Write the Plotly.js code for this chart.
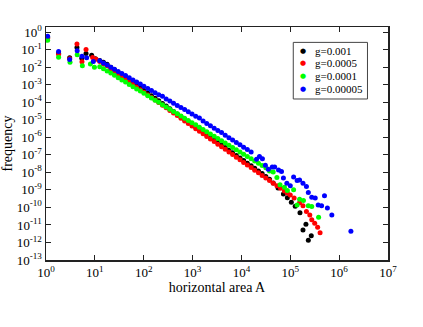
<!DOCTYPE html>
<html>
<head>
<meta charset="utf-8">
<script src="https://cdn.plot.ly/plotly-3.0.1.min.js"></script>
<style>
  html, body { margin: 0; padding: 0; background: #ffffff; }
  #chart { width: 423px; height: 327px; }
</style>
</head>
<body>
<div id="chart"></div>
<script>
// log-binned area values shared by the body of every curve
const areaBins = [12.6, 15.0, 17.8, 21.2, 25.2, 30.0, 35.7, 42.5, 50.6, 60.2, 71.6, 85.2, 101, 121, 144, 171, 203, 242, 288, 343,
  408, 486, 578, 688, 818, 974, 1160, 1380, 1640, 1950, 2320, 2770, 3290, 3920, 4660, 5550, 6600, 7860, 9350, 11100,
  13200, 15800, 18700, 22300, 26500, 31600, 37600, 44700, 53200];

// g = 0.001 (black)
const blackSmallA = [1.08, 1.81, 3.05, 4.3, 5.4, 6.6, 8.6, 10.3];
const blackSmallF = [0.50, 0.063, 0.034, 0.13, 0.032, 0.060, 0.047, 0.030];
const blackBodyF = [2.4e-2, 1.9e-2, 1.45e-2, 1.0e-2, 7.0e-3, 5.0e-3, 3.6e-3, 2.5e-3, 1.8e-3, 1.28e-3, 9.1e-4, 6.5e-4,
  4.6e-4, 3.3e-4, 2.35e-4, 1.66e-4, 1.2e-4, 8.4e-5, 6.0e-5, 4.3e-5, 3.0e-5, 2.15e-5, 1.53e-5, 1.08e-5, 7.8e-6, 5.5e-6,
  3.9e-6, 2.8e-6, 2.0e-6, 1.41e-6, 1.0e-6, 7.2e-7, 5.1e-7, 3.6e-7, 2.6e-7, 1.83e-7, 1.3e-7, 9.2e-8, 6.6e-8, 4.7e-8,
  3.3e-8, 2.4e-8, 1.7e-8, 1.2e-8, 8.5e-9, 5.8e-9, 4.0e-9];
const blackTailA = [44700, 56200, 72400, 87100, 105000, 126000, 158000, 209000, 182000, 269000, 234000];
const blackTailF = [2.5e-9, 1.29e-9, 5.9e-10, 3.5e-10, 2.0e-10, 1.15e-10, 4.9e-11, 1.1e-11, 5.1e-12, 2.45e-12, 1.35e-12];

// g = 0.0005 (red)
const redSmallA = [1.08, 1.81, 3.05, 4.3, 5.45, 6.6, 9.0, 10.6];
const redSmallF = [0.45, 0.054, 0.030, 0.21, 0.020, 0.10, 0.036, 0.028];
const redBodyF = [2.1e-2, 1.5e-2, 1.2e-2, 7.6e-3, 5.8e-3, 3.9e-3, 2.9e-3, 2.0e-3, 1.45e-3, 1.02e-3, 7.3e-4, 5.2e-4,
  3.7e-4, 2.6e-4, 1.87e-4, 1.32e-4, 9.5e-5, 6.7e-5, 4.8e-5, 3.4e-5, 2.4e-5, 1.72e-5, 1.22e-5, 8.6e-6, 6.2e-6, 4.4e-6,
  3.1e-6, 2.2e-6, 1.58e-6, 1.12e-6, 8.0e-7, 5.7e-7, 4.0e-7, 2.9e-7, 2.05e-7, 1.45e-7, 1.03e-7, 7.3e-8, 5.2e-8, 3.7e-8,
  2.6e-8, 1.9e-8, 1.33e-8, 9.5e-9, 6.7e-9, 4.8e-9, 3.4e-9, 2.4e-9, 1.7e-9];
const redTailA = [63100, 75900, 87100, 100000, 120000, 155000, 182000, 214000, 251000, 275000, 316000, 363000, 407000];
const redTailF = [1.23e-9, 8.7e-10, 6.6e-10, 5.1e-10, 3.4e-10, 1.86e-10, 1.26e-10, 5.8e-11, 3.7e-11, 1.95e-11, 1.26e-11, 7.4e-12, 3.6e-12];

// g = 0.0001 (green)
const greenSmallA = [1.08, 1.81, 3.1, 4.35, 5.55, 8.1, 9.8];
const greenSmallF = [0.34, 0.037, 0.019, 0.051, 0.012, 0.015, 0.010];
const greenBodyF = [1.05e-2, 8.2e-3, 6.1e-3, 4.6e-3, 3.4e-3, 2.5e-3, 1.87e-3, 1.40e-3, 1.04e-3, 7.7e-4, 5.7e-4, 4.3e-4,
  3.2e-4, 2.35e-4, 1.75e-4, 1.31e-4, 9.8e-5, 7.2e-5, 5.4e-5, 4.0e-5, 2.98e-5, 2.21e-5, 1.65e-5, 1.22e-5, 9.1e-6, 6.8e-6,
  5.1e-6, 3.76e-6, 2.8e-6, 2.09e-6, 1.56e-6, 1.15e-6, 8.6e-7, 6.4e-7, 4.75e-7, 3.5e-7, 2.6e-7, 1.95e-7, 1.45e-7, 1.09e-7,
  8.1e-8, 6.0e-8, 4.5e-8, 3.3e-8, 2.45e-8, 1.8e-8, 1.2e-8, 1.05e-8, 5.0e-9];
const greenTailA = [61700, 75900, 87100, 117000, 138000, 155000, 186000, 234000, 275000, 380000];
const greenTailF = [1.95e-9, 1.41e-9, 9.1e-10, 1.0e-9, 1.38e-10, 2.95e-10, 2.45e-10, 1.23e-10, 1.12e-10, 2.75e-11];

// g = 0.00005 (blue)
const blueSmallA = [1.08, 1.81, 3.05, 4.35, 5.45, 6.8, 9.3];
const blueSmallF = [0.58, 0.079, 0.027, 0.087, 0.042, 0.034, 0.021];
const blueBodyF = [2.3e-2, 1.73e-2, 1.32e-2, 1.0e-2, 7.6e-3, 5.7e-3, 4.3e-3, 3.3e-3, 2.48e-3, 1.87e-3, 1.42e-3, 1.08e-3,
  8.2e-4, 6.1e-4, 4.7e-4, 3.5e-4, 2.7e-4, 2.2e-4, 1.54e-4, 1.16e-4, 8.8e-5, 6.6e-5, 5.0e-5, 3.8e-5, 2.9e-5, 2.16e-5,
  1.58e-5, 1.25e-5, 8.5e-6, 6.2e-6, 4.5e-6, 3.3e-6, 2.43e-6, 1.9e-6, 1.3e-6, 9.5e-7, 6.9e-7, 5.1e-7, 3.7e-7, 2.7e-7,
  2.0e-7, 1.44e-7];
const blueTailA = [20400, 23400, 26900, 30900, 35500, 42700, 47900, 57500, 66100, 72400, 85100, 100000, 117000, 138000,
  155000, 182000, 214000, 234000, 275000, 324000, 372000, 437000, 501000, 575000, 708000, 1740000];
const blueTailF = [5.6e-8, 7.9e-8, 5.9e-8, 2.57e-8, 1.51e-8, 2.0e-8, 2.0e-8, 1.38e-8, 1.12e-8, 4.7e-9, 2.4e-9, 1.7e-9,
  5.4e-9, 3.4e-9, 3.7e-9, 2.4e-9, 1.55e-9, 7.1e-10, 3.8e-10, 3.4e-10, 1.38e-10, 1.23e-10, 4.6e-10, 9.3e-11, 3.7e-11, 4.3e-12];

const seriesNames = ['g=0.001', 'g=0.0005', 'g=0.0001', 'g=0.00005'];
const seriesColors = ['#000000', '#ff0000', '#00ff00', '#0000ff'];

const xTickVals = [1, 10, 100, 1e3, 1e4, 1e5, 1e6, 1e7];
const xTickText = ['0', '1', '2', '3', '4', '5', '6', '7'].map(p => '10<sup>' + p + '</sup>');
const yTickVals = [1, 1e-1, 1e-2, 1e-3, 1e-4, 1e-5, 1e-6, 1e-7, 1e-8, 1e-9, 1e-10, 1e-11, 1e-12, 1e-13];
const yTickText = ['0', '-1', '-2', '-3', '-4', '-5', '-6', '-7', '-8', '-9', '-10', '-11', '-12', '-13'].map(p => '10<sup>' + p + '</sup>');

function buildTrace(i, smallA, smallF, bodyF, tailA, tailF) {
    return {
        x: smallA.concat(areaBins.slice(0, bodyF.length), tailA),
        y: smallF.concat(bodyF, tailF),
        type: 'scatter',
        mode: 'markers',
        name: seriesNames[i],
        marker: { color: seriesColors[i], size: 5 }
    };
}

const traces = [
    buildTrace(0, blackSmallA, blackSmallF, blackBodyF, blackTailA, blackTailF),
    buildTrace(1, redSmallA, redSmallF, redBodyF, redTailA, redTailF),
    buildTrace(2, greenSmallA, greenSmallF, greenBodyF, greenTailA, greenTailF),
    buildTrace(3, blueSmallA, blueSmallF, blueBodyF, blueTailA, blueTailF)
];

const serif = 'Liberation Serif, Times New Roman, serif';

// compact legend box (the built-in legend rows are too tall for this figure)
const legendBox = { x0: 0.723, x1: 0.94, y0: 0.691, y1: 0.934 };
const legendRows = [0.898, 0.844, 0.790, 0.733];
const legendAnnotations = [];
seriesNames.forEach((name, i) => {
    legendAnnotations.push({
        xref: 'paper', yref: 'paper', x: 0.752, y: legendRows[i],
        xanchor: 'center', yanchor: 'middle', showarrow: false,
        text: '●', font: { family: 'DejaVu Sans', size: 7, color: seriesColors[i] }
    });
    legendAnnotations.push({
        xref: 'paper', yref: 'paper', x: 0.784, y: legendRows[i],
        xanchor: 'left', yanchor: 'middle', showarrow: false, borderpad: 0,
        text: name, font: { family: serif, size: 11, color: '#000000' }
    });
});

const axisCommon = {
    type: 'log',
    showgrid: false,
    zeroline: false,
    showline: true,
    linecolor: '#222222',
    linewidth: 1.5,
    mirror: 'ticks',
    ticks: 'inside',
    ticklen: 5,
    tickwidth: 1,
    tickcolor: '#222222',
    tickmode: 'array',
    tickfont: { family: serif, size: 13, color: '#000000' }
};

const layout = {
    width: 423,
    height: 327,
    margin: { l: 46, r: 35, t: 27, b: 67 },
    paper_bgcolor: '#ffffff',
    plot_bgcolor: '#ffffff',
    showlegend: false,
    shapes: [{
        type: 'rect', xref: 'paper', yref: 'paper',
        x0: legendBox.x0, x1: legendBox.x1, y0: legendBox.y0, y1: legendBox.y1,
        line: { color: '#444444', width: 1 }, fillcolor: '#ffffff'
    }],
    annotations: legendAnnotations,
    xaxis: Object.assign({}, axisCommon, {
        range: [0, 7],
        tickvals: xTickVals,
        ticktext: xTickText,
        title: { text: 'horizontal area A', font: { family: serif, size: 14, color: '#000000' }, standoff: 0 }
    }),
    yaxis: Object.assign({}, axisCommon, {
        range: [-13, 0.29],
        tickvals: yTickVals,
        ticktext: yTickText,
        title: { text: 'frequency', font: { family: serif, size: 14, color: '#000000' }, standoff: 2 }
    })
};

Plotly.newPlot('chart', traces, layout, { staticPlot: true, displayModeBar: false });
</script>
</body>
</html>
